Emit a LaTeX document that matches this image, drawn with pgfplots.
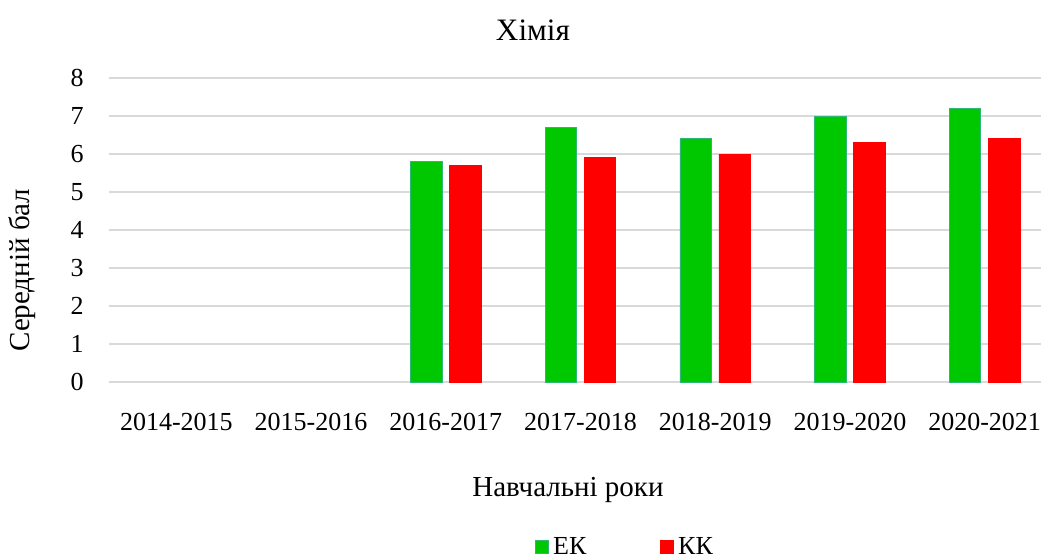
\documentclass[border=0pt]{standalone}
\usepackage{fontspec}
\setmainfont{Liberation Serif}
\usepackage{pgfplots}
\pgfplotsset{compat=1.18}
\definecolor{ekgreen}{HTML}{00C800}
\definecolor{ekedge}{HTML}{2EB872}
\definecolor{kkred}{HTML}{FF0000}
\definecolor{gridgray}{HTML}{D9D9D9}
\begin{document}
\begin{tikzpicture}[font=\fontsize{13}{15}\selectfont]
\useasboundingbox (0,0) rectangle (520.5pt,279pt);
\begin{axis}[
  at={(54.5pt,88pt)}, anchor=south west,
  scale only axis, width=471.5pt, height=152pt,
  ybar, bar width=0.234,
  xmin=-0.5, xmax=6.5, ymin=0, ymax=8,
  xtick={0,...,6},
  xticklabels={2014-2015,2015-2016,2016-2017,2017-2018,2018-2019,2019-2020,2020-2021},
  ytick={0,...,8},
  ymajorgrids=true, grid style={gridgray, line width=0.75pt},
  axis line style={draw=none},
  major tick length=0pt,
  /pgf/number format/assume math mode=true,
  xticklabel style={anchor=center, inner sep=0pt, yshift=-20pt},
  yticklabel style={anchor=east, inner sep=0pt, xshift=-12.5pt},
  title={Хімія},
  title style={at={(0.4496,1.158)}, anchor=center, inner sep=0pt, yshift=-6pt,
    font=\fontsize{15.6}{18}\selectfont},
  xlabel={Навчальні роки},
  xlabel style={at={(0.4867,-0.355)}, anchor=center, inner sep=0pt,
    font=\fontsize{14.5}{17}\selectfont},
  ylabel={Середній бал},
  ylabel style={at={(-0.0923,0.368)}, anchor=center, inner sep=0pt, rotate=0,
    font=\fontsize{14.5}{17}\selectfont},
  legend columns=2,
  legend style={at={(0.4517,-0.543)}, anchor=west, draw=none, inner sep=0pt,
    /tikz/every even column/.append style={column sep=35pt},
    cells={anchor=west}},
  legend image code/.code={\fill[#1] (0pt,-3.25pt) rectangle (6.5pt,3.25pt);},
]
\addplot[fill=ekgreen, draw=ekedge, line width=0.4pt, bar shift=-0.145]
  coordinates {(2,5.8) (3,6.7) (4,6.4) (5,7.0) (6,7.2)};
\addplot[fill=kkred, draw=kkred, line width=0.4pt, bar shift=0.145]
  coordinates {(2,5.7) (3,5.9) (4,6.0) (5,6.3) (6,6.4)};
\legend{ЕК,КК}
\end{axis}
\end{tikzpicture}
\end{document}
